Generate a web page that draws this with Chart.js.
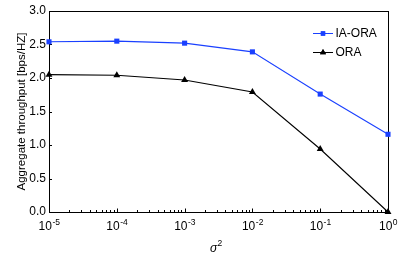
<!DOCTYPE html>
<html>
<head>
<meta charset="utf-8">
<script src="https://cdn.jsdelivr.net/npm/chart.js@4"></script>
<style>
body { margin: 0; background: #fff; }
</style>
</head>
<body>
<canvas id="chart" width="399" height="260"></canvas>
<script>
// values
var sigma2 = [1e-5, 1e-4, 1e-3, 1e-2, 1e-1, 1];
var iaOra = [2.54, 2.55, 2.52, 2.39, 1.76, 1.16];
var ora = [2.05, 2.04, 1.97, 1.79, 0.94, 0.0];
var yTicks = [0, 0.5, 1, 1.5, 2, 2.5, 3];
var xExponents = [-5, -4, -3, -2, -1, 0];
var seriesNames = ['IA-ORA', 'ORA'];
var yTitle = 'Aggregate throughput [bps/HZ]';

var FONT = '"Liberation Sans", Arial, sans-serif';
var BLUE = '#1a40ff';

function points(vals) {
    return sigma2.map(function (x, i) { return { x: x, y: vals[i] }; });
}

// box, inward ticks, x labels with exponents, axis titles, legend
var frame = {
    id: 'frame',
    beforeDatasetsDraw: function (chart) {
        var c = chart.ctx, a = chart.chartArea;
        var xs = chart.scales.x, ys = chart.scales.y;
        c.save();
        c.strokeStyle = '#000';
        c.lineWidth = 1;
        c.strokeRect(Math.round(a.left) + 0.5, Math.round(a.top) + 0.5,
            Math.round(a.right - a.left), Math.round(a.bottom - a.top));

        c.beginPath();
        yTicks.forEach(function (v) {
            var y = Math.round(ys.getPixelForValue(v)) + 0.5;
            c.moveTo(a.left, y);
            c.lineTo(a.left + 3, y);
        });
        var bottom = Math.round(a.bottom) + 0.5;
        for (var e = -5; e < 0; e++) {
            for (var m = 1; m <= 9; m++) {
                var x = Math.round(xs.getPixelForValue(m * Math.pow(10, e))) + 0.5;
                c.moveTo(x, bottom);
                c.lineTo(x, bottom - (m === 1 ? 4 : 2.5));
            }
        }
        c.stroke();

        c.fillStyle = '#000';
        c.textBaseline = 'alphabetic';
        xExponents.forEach(function (e) {
            var x = xs.getPixelForValue(Math.pow(10, e));
            var base = '10', exp = String(e);
            c.font = '12px ' + FONT;
            var w1 = c.measureText(base).width;
            c.font = '8.5px ' + FONT;
            var w2 = c.measureText(exp).width;
            var x0 = x - (w1 + w2) / 2;
            c.font = '12px ' + FONT;
            c.textAlign = 'left';
            c.fillText(base, x0, 230);
            c.font = '8.5px ' + FONT;
            c.fillText(exp, x0 + w1 + 0.5, 224.5);
        });

        // x axis title: sigma squared
        c.font = 'italic 12px ' + FONT;
        c.fillText('σ', 210, 252);
        c.font = '8.5px ' + FONT;
        c.fillText('2', 217.5, 246);

        // y axis title
        c.translate(22, (a.top + a.bottom) / 2);
        c.rotate(-Math.PI / 2);
        c.textAlign = 'center';
        c.textBaseline = 'middle';
        c.font = '11.5px ' + FONT;
        c.fillText(yTitle, 0, 0);
        c.restore();
    },
    afterDraw: function (chart) {
        var c = chart.ctx;
        c.save();
        var rows = [33, 51.5];
        chart.data.datasets.forEach(function (ds, i) {
            var y = Math.round(rows[i]) + 0.5;
            c.strokeStyle = ds.borderColor;
            c.lineWidth = 1;
            c.beginPath();
            c.moveTo(313, y);
            c.lineTo(333, y);
            c.stroke();
            Chart.helpers.drawPoint(c, {
                pointStyle: ds.pointStyle, radius: ds.pointRadius - 0.5, rotation: 0, borderWidth: 0
            }, 323, y);
            c.fillStyle = ds.borderColor;
            c.fill();
            c.fillStyle = '#000';
            c.font = '12px ' + FONT;
            c.textAlign = 'left';
            c.textBaseline = 'middle';
            c.fillText(ds.label, 335.5, y + 0.5);
        });
        c.restore();
    }
};

var ctx = document.getElementById('chart');
var myChart = new Chart(ctx, {
    type: 'line',
    data: {
        datasets: [{
            label: seriesNames[0],
            data: points(iaOra),
            borderColor: BLUE,
            backgroundColor: BLUE,
            pointBackgroundColor: BLUE,
            pointBorderWidth: 0,
            pointStyle: 'rect',
            pointRadius: 3.6,
            borderWidth: 1.1,
            clip: false
        }, {
            label: seriesNames[1],
            data: points(ora),
            borderColor: '#000',
            backgroundColor: '#000',
            pointBackgroundColor: '#000',
            pointBorderWidth: 0,
            pointStyle: 'triangle',
            pointRadius: 4,
            borderWidth: 1.1,
            clip: false
        }]
    },
    options: {
        responsive: false,
        animation: false,
        layout: {
            padding: { top: 11, right: 11, left: 0, bottom: 0 }
        },
        scales: {
            x: {
                type: 'logarithmic',
                min: 1e-5,
                max: 1,
                grid: { display: false, drawTicks: false },
                border: { display: false },
                ticks: { display: false },
                afterFit: function (scale) { scale.height = 48; }
            },
            y: {
                min: 0,
                max: 3,
                grid: { display: false, drawTicks: false },
                border: { display: false },
                afterBuildTicks: function (scale) {
                    scale.ticks = yTicks.map(function (v) { return { value: v }; });
                },
                ticks: {
                    color: '#000',
                    padding: 3,
                    font: { family: FONT, size: 12 },
                    callback: function (v) { return v.toFixed(1); }
                },
                afterFit: function (scale) { scale.width = 49; }
            }
        },
        plugins: {
            legend: { display: false },
            tooltip: { enabled: false }
        }
    },
    plugins: [frame]
});
</script>
</body>
</html>
